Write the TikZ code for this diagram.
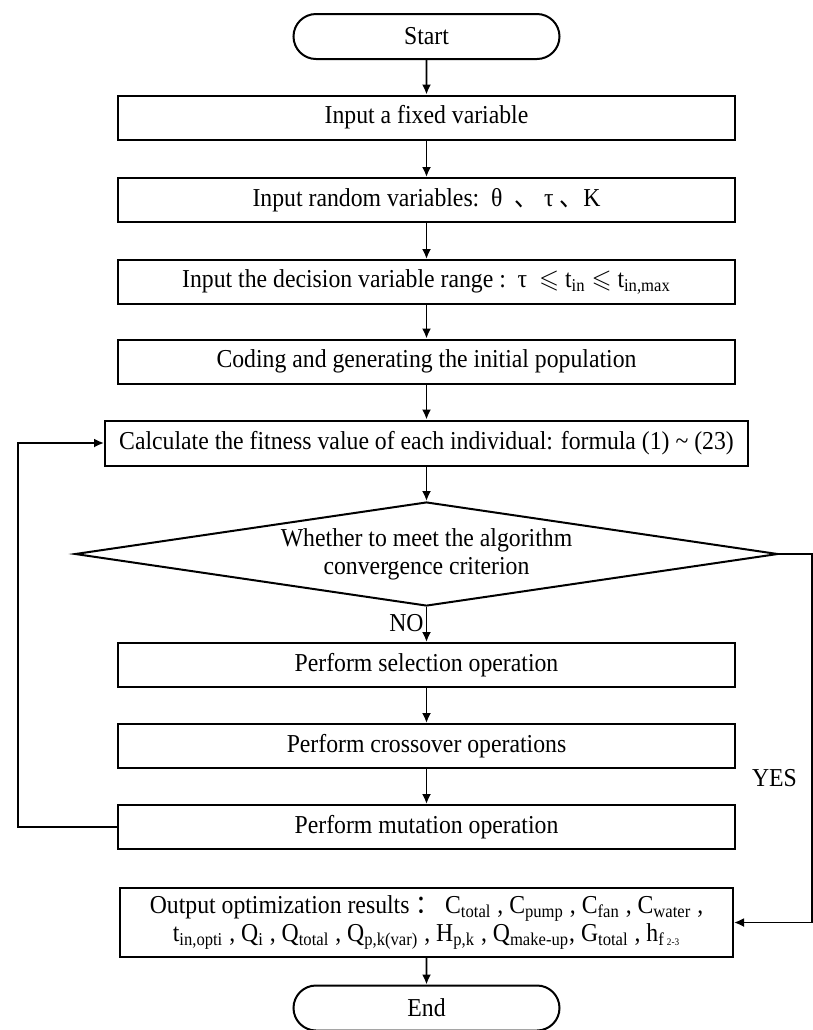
\documentclass[tikz,border=0pt]{standalone}
\usepackage{fontspec}
\usepackage{amssymb}
\setmainfont{Liberation Serif}[FakeStretch=0.92]
\newfontfamily\cjk{Noto Sans CJK SC}[FakeStretch=0.92]
\usetikzlibrary{arrows.meta}
\usetikzlibrary{shapes.geometric,shapes.misc}

\begin{document}
\begin{tikzpicture}[x=0.5pt, y=-0.5pt, >={Latex[length=5pt,width=4.5pt]},
    every node/.style={font=\fontsize{12.9}{14}\selectfont},
    terminal/.style={draw, line width=1pt, rounded rectangle, minimum width=133pt, minimum height=22.5pt, inner sep=0pt},
    procbox/.style={draw, line width=1pt, rectangle, minimum width=308.5pt, minimum height=22pt, inner sep=0pt},
    widebox/.style={procbox, minimum width=321.5pt, minimum height=22.5pt},
    decision/.style={draw, line width=1pt, diamond, aspect=6.76, minimum width=351.5pt, minimum height=52pt, inner sep=0pt, align=center},
    flow/.style={->, line width=0.9pt}]
          \useasboundingbox (0,0) rectangle (813,1030);

          \node[terminal] (start) at (426.5,36.5) {Start};
          \node[procbox] (fixed) at (426.5,117.5) {Input a fixed variable};
          \node[procbox] (random) at (426.5,200) {Input random variables:\ \ θ\ \ {\cjk 、}\ τ {\cjk 、}K};
          \node[procbox] (range) at (426.5,282) {Input the decision variable range :\ \ τ\ \ $\leqslant$ t\textsubscript{in} $\leqslant$ t\textsubscript{in,max}};
          \node[procbox] (coding) at (426.5,361.5) {Coding and generating the initial population};
          \node[widebox] (fitness) at (426.5,443) {Calculate the fitness value of each individual: formula (1) \textasciitilde{} (23)};
          \node[decision] (conv) at (426.5,554) {Whether to meet the algorithm\\convergence criterion};
          \node[procbox] (select) at (426.5,665) {Perform selection operation};
          \node[procbox] (cross) at (426.5,746) {Perform crossover operations};
          \node[procbox] (mutate) at (426.5,827) {Perform mutation operation};
          \node[procbox, minimum width=306.5pt, minimum height=34.5pt, align=center] (output) at (426.5,922.5)
          {Output optimization results {\cjk ：} C\textsubscript{total} , C\textsubscript{pump} , C\textsubscript{fan} , C\textsubscript{water} ,\\
          t\textsubscript{in,opti} , Q\textsubscript{i} , Q\textsubscript{total} , Q\textsubscript{p,k(var)} , H\textsubscript{p,k} , Q\textsubscript{make-up}, G\textsubscript{total} , h\textsubscript{f\,{\tiny 2-3}}};
          \node[terminal] (end) at (426.5,1008) {End};

          \draw[flow] (start) -- (fixed);
          \draw[flow] (fixed) -- (random);
          \draw[flow] (random) -- (range);
          \draw[flow] (range) -- (coding);
          \draw[flow] (coding) -- (fitness);
          \draw[flow] (fitness) -- (conv);
          \draw[flow] (conv) -- (select) node[pos=0.45, anchor=east, inner sep=1pt] {NO};
          \draw[flow] (select) -- (cross);
          \draw[flow] (cross) -- (mutate);
          \draw[flow] (output) -- (end);

          % back to fitness
          \draw[flow] (mutate.west) -- (18,827) -- (18,443) -- (fitness.west);
          % converged
          \draw[flow] (conv.east) -- (812,554) -- (812,922.5) -- (output.east);
          \node[anchor=east] (yes) at (804,778) {YES};
\end{tikzpicture}
\end{document}
